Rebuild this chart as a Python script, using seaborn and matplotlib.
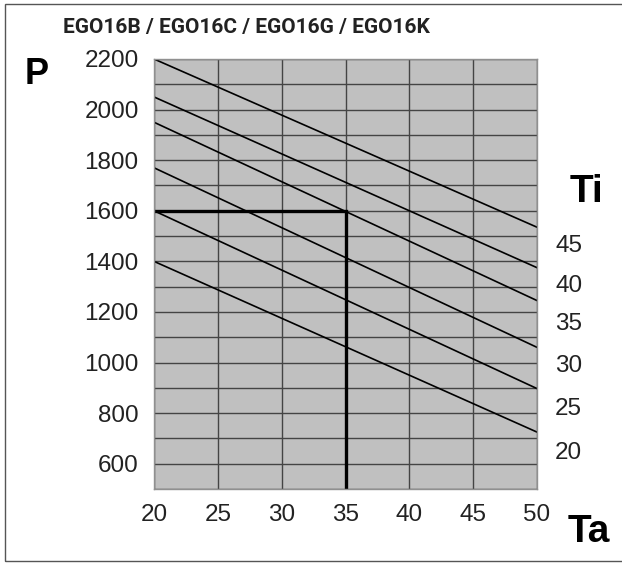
import matplotlib
matplotlib.use("Agg")
import matplotlib.pyplot as plt
from matplotlib.patches import Rectangle
import seaborn as sns
import numpy as np
import pandas as pd

# chart data
ta_range = [20, 50]
ti_values = [45, 40, 35, 30, 25, 20]
p_at_20 = [2200, 2050, 1950, 1770, 1600, 1400]
p_at_50 = [1535, 1375, 1245, 1060, 897, 725]

# example reading: Ti line 25 at Ta 35
example_ta = [20, 35, 35]
example_p = [1600, 1600, 500]

x_ticks = [20, 25, 30, 35, 40, 45, 50]
y_ticks = [600, 800, 1000, 1200, 1400, 1600, 1800, 2000, 2200]
title = "EGO16B / EGO16C / EGO16G / EGO16K"

# where the Ti labels sit on the right side (in P units)
ti_label_pos = [1472, 1313, 1164, 995, 826, 652]

rows = []
for ti, p0, p1 in zip(ti_values, p_at_20, p_at_50):
    rows.append({"Ta": ta_range[0], "P": p0, "Ti": ti})
    rows.append({"Ta": ta_range[1], "P": p1, "Ti": ti})
df = pd.DataFrame(rows)

sns.set_theme(style="white")
plt.rcParams["font.family"] = ["Liberation Sans", "DejaVu Sans"]

fig = plt.figure(figsize=(6.22, 5.63), dpi=100)
ax = fig.add_axes([154 / 622, 1 - 489 / 563, 383 / 622, 430 / 563])
ax.set_facecolor("#c0c0c0")

sns.lineplot(data=df, x="Ta", y="P", hue="Ti", units="Ti", estimator=None,
             palette=["black"] * len(ti_values), linewidth=1.2, legend=False, ax=ax)
ax.plot(example_ta, example_p, color="black", linewidth=2.4, solid_joinstyle="miter")

ax.set_xlim(20, 50)
ax.set_ylim(500, 2200)
ax.set_xticks(x_ticks)
ax.set_yticks(y_ticks)
ax.set_yticks(np.arange(500, 2201, 100), minor=True)
ax.set_xlabel("")
ax.set_ylabel("")
ax.grid(True, which="both", color="#444444", linewidth=1.0)
ax.set_axisbelow(True)
ax.tick_params(axis="both", which="both", length=0, labelsize=17.5, colors="#222222", pad=11)
for s in ax.spines.values():
    s.set_color("#909090")
    s.set_linewidth(1)

ax2 = ax.twinx()
ax2.set_ylim(500, 2200)
ax2.set_yticks(ti_label_pos)
ax2.set_yticklabels([str(t) for t in ti_values])
ax2.tick_params(axis="y", length=0, labelsize=17.5, colors="#222222", pad=13)
for s in ax2.spines.values():
    s.set_visible(False)

fig.text(63 / 622, 1 - 27.5 / 563, title, ha="left", va="center", fontsize=15,
         fontweight="bold", family=["Roboto", "DejaVu Sans"], color="#222222")
fig.text(37 / 622, 1 - 74.5 / 563, "P", ha="center", va="center", fontsize=26,
         fontweight="bold", color="black")
fig.text(587 / 622, 1 - 192 / 563, "Ti", ha="center", va="center", fontsize=28,
         fontweight="bold", color="black")
fig.text(589 / 622, 1 - 532 / 563, "Ta", ha="center", va="center", fontsize=28,
         fontweight="bold", color="black")

fig.patches.append(Rectangle((5 / 622, 1 - 561 / 563), 620 / 622, 557 / 563,
                             transform=fig.transFigure, fill=False,
                             edgecolor="#555555", linewidth=1))

fig.savefig("out.png", dpi=100)
